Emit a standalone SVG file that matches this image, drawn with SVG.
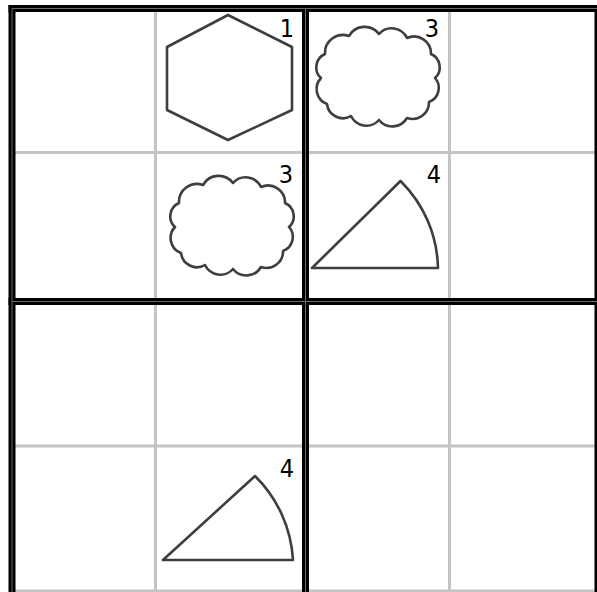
<svg xmlns="http://www.w3.org/2000/svg" width="597" height="592" viewBox="0 0 597 592">
<style>
.thin{stroke:#c4c4c4;stroke-width:3;fill:none}
.thick{stroke:#000;stroke-width:7;fill:none}
.mid{stroke:#6a6a6a;stroke-width:1;fill:none}
.shape{stroke:#3e3e3e;stroke-width:2.6;fill:#fff;stroke-linejoin:round}
.lbl{font-family:"DejaVu Sans Condensed","DejaVu Sans",sans-serif;font-size:25px;fill:#000;text-anchor:end}
</style>
<defs>
<path id="cloud" d="M12,34 A18,18 0 0 1 36,16 A18,18 0 0 1 66,14 A17,17 0 0 1 94,18 A17,17 0 0 1 118,34 A14.5,14.5 0 0 1 122,58 A15,15 0 0 1 116,82 A16.5,16.5 0 0 1 94,98 A17,17 0 0 1 66,100 A17,17 0 0 1 38,96 A16,16 0 0 1 14,84 A16,16 0 0 1 8,58 A14.5,14.5 0 0 1 12,34 Z"/>
</defs>
<rect width="597" height="592" fill="#fff"/>
<g id="grid">
<line class="thin" x1="155.5" y1="8" x2="155.5" y2="592"/>
<line class="thin" x1="449.5" y1="8" x2="449.5" y2="592"/>
<line class="thin" x1="12" y1="152.5" x2="598" y2="152.5"/>
<line class="thin" x1="12" y1="446" x2="598" y2="446"/>
<line class="thin" x1="12" y1="591" x2="598" y2="591"/>
<line class="thick" x1="12" y1="5" x2="12" y2="598"/>
<line class="thick" x1="305.5" y1="5" x2="305.5" y2="598"/>
<line class="thick" x1="598" y1="5" x2="598" y2="598"/>
<line class="thick" x1="8.5" y1="8.5" x2="601" y2="8.5"/>
<line class="thick" x1="8.5" y1="301.5" x2="601" y2="301.5"/>
<line class="mid" x1="12" y1="8.5" x2="12" y2="598"/>
<line class="mid" x1="305.5" y1="8.5" x2="305.5" y2="598"/>
<line class="mid" x1="12" y1="8.5" x2="601" y2="8.5"/>
<line class="mid" x1="12" y1="301.5" x2="601" y2="301.5"/>
</g>
<g id="hexagon">
<polygon class="shape" points="228,15 292,47 292,110 228,140 167,110 167,47"/>
<text class="lbl" x="294" y="37">1</text>
</g>
<g id="cloud1">
<use href="#cloud" class="shape" transform="translate(313,20)"/>
<text class="lbl" x="439" y="37">3</text>
</g>
<g id="cloud2">
<use href="#cloud" class="shape" transform="translate(167,169)"/>
<text class="lbl" x="293" y="183">3</text>
</g>
<g id="sector1">
<path class="shape" d="M312,268 L438,268 A126,126 0 0 0 400.5,181 Z"/>
<text class="lbl" x="441" y="183">4</text>
</g>
<g id="sector2">
<path class="shape" d="M163,560 L293,560 A128,128 0 0 0 255,476 Z"/>
<text class="lbl" x="294" y="477">4</text>
</g>
<g id="connectors"/>
</svg>
